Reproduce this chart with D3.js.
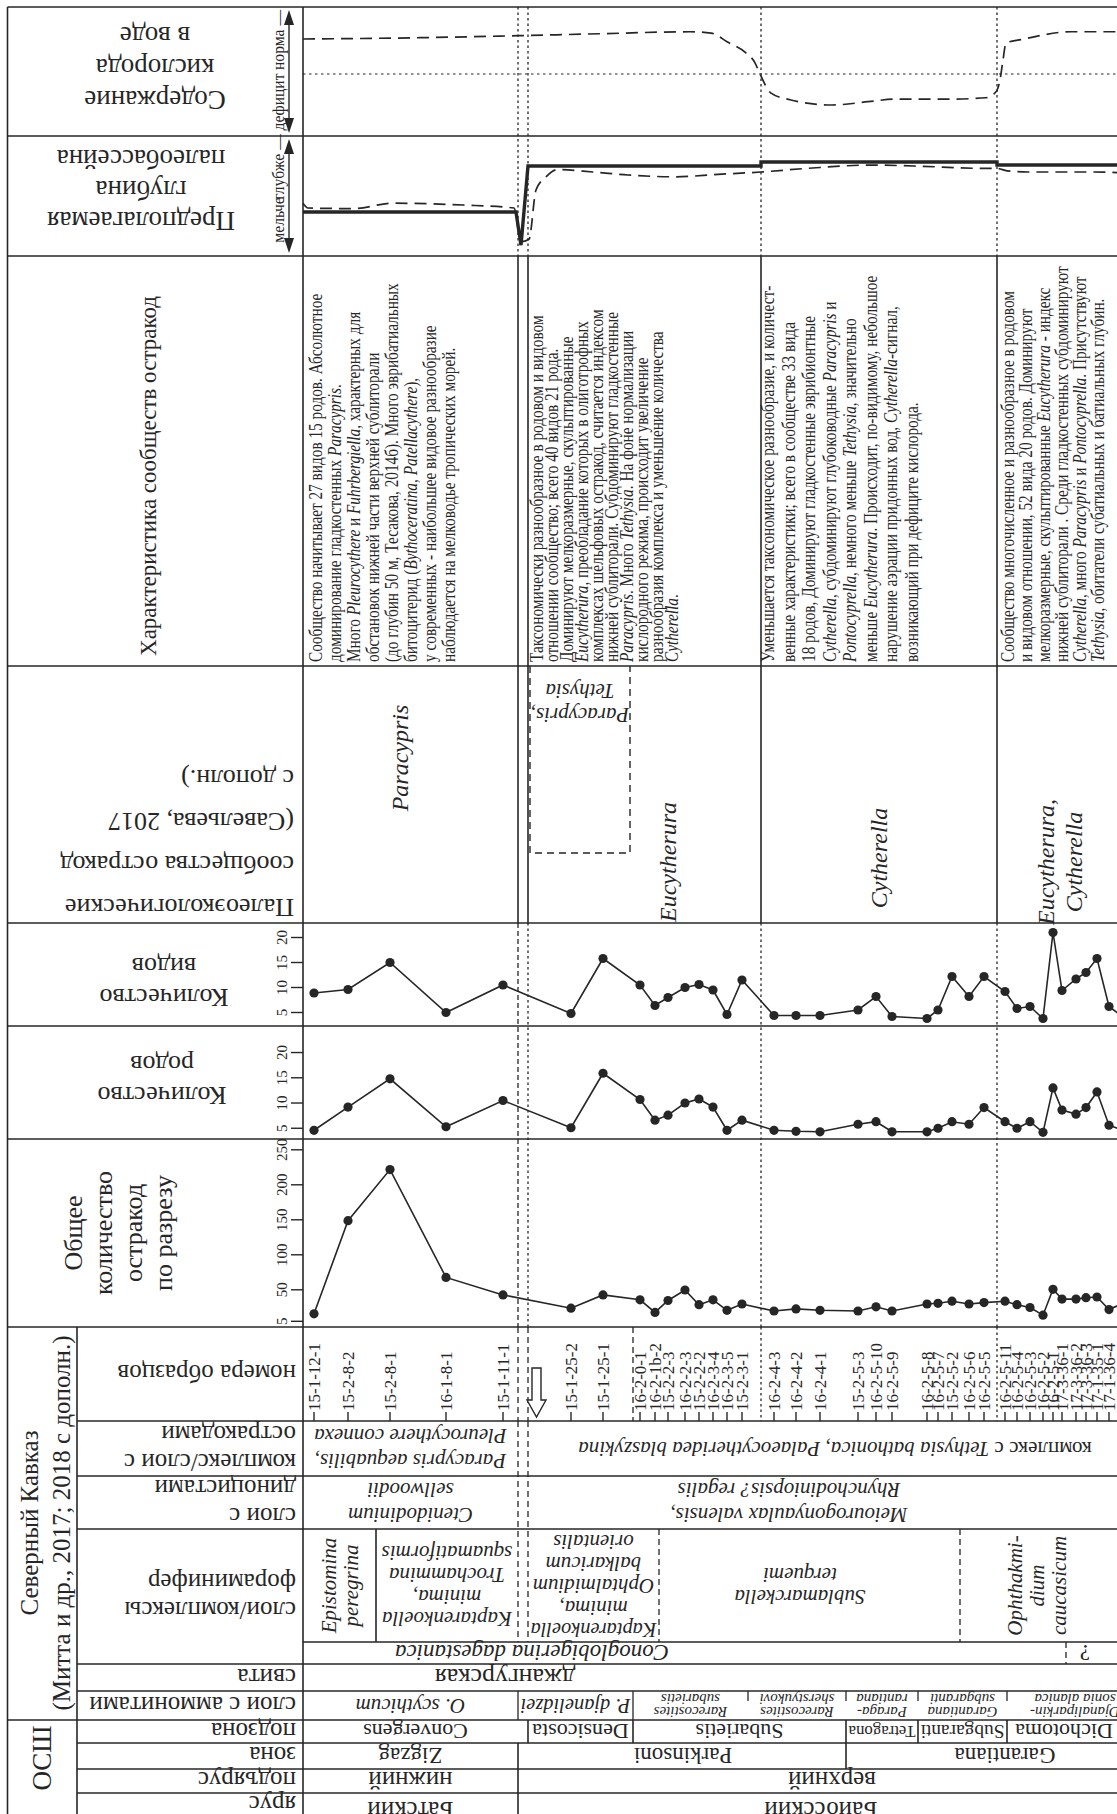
<!DOCTYPE html>
<html>
<head>
<meta charset="utf-8">
<script src="https://cdn.jsdelivr.net/npm/d3@7"></script>
<style>
  body { margin: 0; background: #fff; }
  svg { display: block; }
</style>
</head>
<body>
<svg id="chart"></svg>
<script>
// ---- data (positions along the section, arbitrary units) ----
const sampleLabels = ['15-1-12-1', '15-2-8-2', '15-2-8-1', '16-1-8-1', '15-1-11-1',
  '15-1-25-2', '15-1-25-1', '16-2-0-1', '16-2-1b-2', '15-2-2-3', '16-2-2-3', '15-2-2-2',
  '16-2-3-4', '16-2-3-5', '15-2-3-1', '16-2-4-3', '16-2-4-2', '16-2-4-1', '15-2-5-3',
  '16-2-5-10', '16-2-5-9', '16-2-5-8', '16-2-5-7', '15-2-5-2', '16-2-5-6', '16-2-5-5',
  '16-2-5-11', '16-2-5-4', '16-2-5-3', '16-2-5-2', '16-2-5-1', '17-3-36-1', '17-3-36-2',
  '17-3-36-3', '17-1-35-1', '17-1-36-4', '17-2-36-4'];
const samplePos = [1.1, 4.5, 8.7, 14.3, 20.0, 26.8, 30.0, 33.7, 35.2, 36.5, 38.2, 39.6,
  41.0, 42.4, 43.9, 47.1, 49.3, 51.7, 55.5, 57.3, 58.9, 62.4, 63.5, 64.9, 66.6, 68.1,
  70.2, 71.4, 72.7, 74.0, 75.0, 75.9, 77.3, 78.3, 79.4, 80.6, 82.0];
const speciesCount = [8.8, 9.5, 14.9, 4.9, 10.4, 4.7, 15.7, 10.4, 6.3, 7.9, 9.9, 10.5,
  9.4, 4.5, 11.4, 4.3, 4.3, 4.3, 5.4, 8.1, 4.1, 3.7, 5.4, 12.1, 8.1, 12.1,
  9.1, 5.7, 6.1, 3.7, 20.9, 9.3, 11.6, 12.9, 15.7, 6.1, 4.0];
const generaCount = [4.5, 9.1, 14.7, 5.2, 10.4, 5.0, 15.8, 10.6, 6.5, 7.5, 9.9, 10.7,
  9.1, 4.5, 6.5, 4.5, 4.3, 4.2, 5.7, 6.2, 4.2, 4.2, 4.9, 6.2, 5.7, 9.0,
  6.2, 4.9, 6.2, 4.1, 12.9, 8.5, 7.7, 9.0, 12.1, 5.5, 4.5];
const totalCount = [15, 148, 221, 67, 42, 23, 42, 35, 17, 34, 49, 28,
  35, 20, 29, 19, 22, 20, 19, 25, 19, 29, 30, 33, 29, 31,
  33, 28, 24, 13, 50, 36, 36, 38, 39, 21, 30];
const countTicks = [5, 10, 15, 20];
const totalTicks = [5, 50, 100, 150, 200, 250];

// oxygen (relative: >0 norm, <0 deficit) and depth (0 shallow .. 100 deep), schematic curves
const oxygenCurve = [[0, 0.53], [11.7, 0.55], [21.5, 0.58], [29.7, 0.61], [38.7, 0.64],
  [40.8, 0.62], [42.5, 0.48], [44.2, 0.33], [45.2, 0.17], [45.7, 0], [46.8, -0.29],
  [48.7, -0.39], [52.9, -0.47], [56.5, -0.42], [59.3, -0.38], [64.7, -0.38], [68.3, -0.36],
  [69.3, -0.27], [69.7, -0.09], [70.0, 0.21], [70.3, 0.47], [71.8, 0.52], [76.8, 0.64], [83, 0.64]];
const depthTrend = [[0, 44], [0.5, 40], [5, 39.5], [9, 44], [16, 42.5], [21.1, 40], [21.8, 12],
  [22.6, 14], [23.3, 55], [24.3, 66], [25.4, 72], [29, 70], [32.5, 67.5], [37.2, 66], [41.5, 68],
  [45.8, 70], [50.4, 73], [56.8, 75.8], [61.1, 75], [68.3, 73], [69.4, 73], [70.4, 71],
  [72.5, 70], [79, 70], [83, 69]];
const depthLevel = [[0, 36.7], [21.3, 36.7], [21.8, 9], [22.5, 75], [45.8, 75], [45.8, 78.3],
  [69.4, 78.3], [69.4, 75.8], [83, 75.8]];

// interval boundaries
const mainBounds = [21.5, 22.5, 45.8, 69.4];
const textBlocks = [
  { at: 1.3, lh: 19, lines: [
    'Сообщество начитывает 27 видов 15 родов. Абсолютное',
    'доминирование гладкостенных *Paracypris*.',
    'Много *Pleurocythere* и *Fuhrbergiella*, характерных для',
    'обстановок нижней части верхней сублиторали',
    '(до глубин 50 м, Тесакова, 2014б). Много эврибатиальных',
    'битоцитерид (*Bythoceratina*,  *Patellacythere*),',
    'у современных - наибольшее видовое разнообразие',
    'наблюдается на мелководье тропических морей.'] },
  { at: 23.4, lh: 15, lines: [
    'Таксономически разнообразное в родовом и видовом',
    'отношении сообщество; всего 40 видов 21 рода.',
    'Доминируют мелкоразмерные, скульптированные',
    '*Eucytherura*, преобладание которых в олиготрофных',
    'комплексах шельфовых остракод, считается индексом',
    'нижней сублиторали. Субдоминируют гладкостенные',
    '*Paracypris*. Много *Tethysia*. На фоне нормализации',
    'кислородного режима, происходит увеличение',
    'разнообразия комплекса и уменьшение количества',
    '*Cytherella*.'] },
  { at: 46.5, lh: 20.5, lines: [
    'Уменьшается таксономическое разнообразие, и количест-',
    'венные характеристики; всего в сообществе 33 вида',
    '18 родов, Доминируют гладкостенные эврибионтные',
    '*Cytherella*, субдоминируют глубоководные *Paracypris* и',
    '*Pontocyprella*, немного меньше *Tethysia*, значительно',
    'меньше *Eucytherura*. Происходит, по-видимому, небольшое',
    'нарушение аэрации придонных вод, *Cytherella*-сигнал,',
    'возникающий при дефиците кислорода.'] },
  { at: 70.5, lh: 18, lines: [
    'Сообщество многочисленное и разнообразное в родовом',
    'и видовом отношении, 52 вида 20 родов. Доминируют',
    'мелкоразмерные, скульптированные *Eucytherura* - индекс',
    'нижней сублиторали . Среди гладкостенных субдоминируют',
    '*Cytherella*, много *Paracypris* и *Pontocyprella*. Присутствуют',
    '*Tethysia*, обитатели субатиальных и батиальных глубин.'] }
];
const paleoCommunities = [
  { at: 9.7, lines: ['*Paracypris*'] },
  { at: 36.5, lines: ['*Eucytherura*'] },
  { at: 57.6, lines: ['*Cytherella*'] },
  { at: 75.7, lines: ['*Eucytherura,*', '*Cytherella*'] }
];
const paleoBox = { from: 22.7, to: 32.7, lines: ['*Paracypris,*', '*Tethysia*'] };

const ostracodZones = [
  { from: 0, to: 21.5, lines: ['*Paracypris aequabilis,*', '*Pleurocythere connexa*'] },
  { from: 22.5, to: 84, at: 53.2, lines: ['комплекс с *Tethysia bathonica, Palaeocytheridea blaszykina*'] }
];
const dinoZones = [
  { from: 0, to: 21.5, lines: ['*Ctenidodinium*', '*sellwoodii*'] },
  { from: 22.5, to: 84, at: 48.6, lines: ['*Meiourogonyaulax valensis,*', '*Rhynchodiniopsis? regalis*'] }
];
const foramZones = [
  { from: 0, to: 7.3, upright: true, lines: ['*Epistomina*', '*peregrina*'] },
  { from: 7.3, to: 21.5, lines: ['*Kaptarenkoella*', '*minima,*', '*Trochammina*', '*squamatiformis*'] },
  { from: 22.5, to: 35.6, lines: ['*Kaptarenkoella*', '*minima,*', '*Ophtalmidium*', '*balkaricum*', '*orientalis*'] },
  { from: 35.6, to: 65.7, at: 49.7, lines: ['*Sublamarckella*', '*terquemi*'] },
  { from: 65.7, to: 84, at: 73.4, upright: true, lines: ['*Ophthakmi-*', '*dium*', '*caucasicum*'] }
];
const planktonZones = [
  { from: 0, to: 76.3, at: 22.9, lines: ['*Conoglobigerina dagestanica*'] },
  { from: 76.3, to: 84, at: 78.2, lines: ['?'] }
];
const formations = [{ from: 0, to: 84, at: 20.2, lines: ['джангурская'] }];
const ammoniteBeds = [
  { from: 0, to: 21.5, lines: ['*O. scythicum*'] },
  { from: 21.5, to: 33, lines: ['*P. djanelidzei*'] },
  { from: 33, to: 44.5, lines: ['*Rarecostites*', '*subarietis*'] },
  { from: 44.5, to: 54.3, lines: ['*Rarecostites*', '*sherstyukovi*'] },
  { from: 54.3, to: 61.5, lines: ['*Paraga-*', '*rantiana*'] },
  { from: 61.5, to: 70.4, lines: ['*Garantiana*', '*subgaranti*'] },
  { from: 70.4, to: 84, at: 77.2, lines: ['*Djanaliparkin-*', '*sonia alanica*'] }
];
const subzones = [
  { from: 0, to: 22.5, lines: ['Convergens'] },
  { from: 22.5, to: 33, lines: ['Densicosta'] },
  { from: 33, to: 54.3, lines: ['Subarietis'] },
  { from: 54.3, to: 61.5, lines: ['Tetragona'] },
  { from: 61.5, to: 70.4, lines: ['Subgaranti'] },
  { from: 70.4, to: 84, at: 76.1, lines: ['Dichotoma'] }
];
const zones = [
  { from: 0, to: 21.5, lines: ['Zigzag'] },
  { from: 21.5, to: 54.3, at: 38.0, lines: ['Parkinsoni'] },
  { from: 54.3, to: 84, at: 70.2, lines: ['Garantiana'] }
];
const substages = [
  { from: 0, to: 21.5, lines: ['нижний'] },
  { from: 21.5, to: 84, at: 52.9, lines: ['верхний'] }
];
const stages = [
  { from: 0, to: 21.5, lines: ['Батский'] },
  { from: 21.5, to: 84, at: 51.8, lines: ['Байосский'] }
];

// ---- layout ----
const W = 1117, H = 1814;
const SERIF = "'Liberation Serif','Times New Roman',serif";
const INK = '#262626';
const xL = 7.5, xG = 77, xH = 303;
const Y = { top: 7, oxy: 136, depth: 256, text: 666, paleo: 923, spec: 1026, gen: 1139,
  total: 1327, samples: 1421, ostr: 1476, dino: 1529, foramSub: 1642, foram: 1664,
  svita: 1691, amm: 1720, subzone: 1743, zone: 1769, substage: 1793, bottom: 1840 };
const paleoLabelY = [758, 862, 858, 862];

const svg = d3.select('#chart').attr('width', W).attr('height', H);
svg.append('rect').attr('width', W).attr('height', H).attr('fill', '#fff');

const x = d3.scaleLinear().domain([0, 83]).range([xH, 1133]);
const yOxy = d3.scaleLinear().domain([-1, 1]).range([140, 8]);
const yDepth = d3.scaleLinear().domain([0, 100]).range([Y.depth, Y.oxy]);
const ySpec = d3.scaleLinear().domain([0, 25]).range([1037, 912]);
const yGen = d3.scaleLinear().domain([0, 25]).range([1153, 1026.8]);
const yTot = d3.scaleLinear().domain([0, 250]).range([1324.3, 1149.3]);

const grid = svg.append('g').attr('stroke', INK).attr('fill', 'none');
function hline(y, x1, x2, w, dash) {
  const l = grid.append('line').attr('x1', x1).attr('x2', x2).attr('y1', y).attr('y2', y)
    .attr('stroke-width', w || 1.6);
  if (dash) l.attr('stroke-dasharray', dash);
}
function vline(xp, y1, y2, dash, w) {
  const l = grid.append('line').attr('x1', xp).attr('x2', xp).attr('y1', y1).attr('y2', y2)
    .attr('stroke-width', w || 1.6);
  if (dash) l.attr('stroke-dasharray', dash);
}

// text with *italic* segments
function rich(t, str) {
  str.split('*').forEach((seg, i) => {
    if (!seg) return;
    t.append('tspan').attr('font-style', i % 2 ? 'italic' : null).text(seg);
  });
}
function lines(parent, o) {
  const sx = o.squeeze || 1;
  const g = parent.append('g')
    .attr('transform', `translate(${o.x},${o.y}) rotate(${o.rot || 0}) scale(${sx},1)`);
  const n = o.lines.length;
  o.lines.forEach((ln, i) => {
    const t = g.append('text')
      .attr('x', 0)
      .attr('y', o.flow ? i * o.lh : (i - (n - 1) / 2) * o.lh)
      .attr('text-anchor', o.anchor || 'middle')
      .attr('dominant-baseline', 'central')
      .attr('font-family', SERIF)
      .attr('font-size', o.size)
      .attr('fill', INK);
    rich(t, ln);
    if (o.maxW) {
      const w = t.node().getComputedTextLength();
      if (w > o.maxW) t.attr('font-size', o.size * o.maxW / w);
    }
  });
  return g;
}
const txt = svg.append('g');

// ---- frame and rows ----
[Y.top, Y.oxy, Y.depth, Y.text, Y.paleo, Y.spec, Y.gen, Y.total].forEach(y => hline(y, xL, W + 10));
[Y.samples, Y.ostr, Y.dino, Y.foram, Y.svita].forEach(y => hline(y, xG, W + 10));
[Y.subzone, Y.zone, Y.substage].forEach(y => hline(y, xG, W + 10));
hline(Y.amm, xL, W + 10);
hline(Y.foramSub, xH, W + 10);
vline(xL, Y.top, H + 5);
vline(xG, Y.total, H + 5);
vline(xH, Y.top, H + 5);

// ---- header column ----
lines(txt, { x: 155, y: 68, rot: 180, lh: 32, size: 27, lines: ['Содержание', 'кислорода', 'в воде'] });
lines(txt, { x: 141, y: 190, rot: 180, lh: 31, size: 27, lines: ['Предполагаемая', 'глубина', 'палеобассейна'] });
lines(txt, { x: 148, y: 476, rot: -90, lh: 30, size: 23, lines: ['Характеристика сообществ остракод'] });
lines(txt, { x: 294, y: 843, rot: 180, lh: 43, size: 26, anchor: 'start',
  lines: ['Палеоэкологические', 'сообщества остракод', '(Савельева, 2017', 'с дополн.)'] });
lines(txt, { x: 164, y: 982, rot: 180, lh: 31, size: 26, lines: ['Количество', 'видов'] });
lines(txt, { x: 162, y: 1080, rot: 180, lh: 31, size: 26, lines: ['Количество', 'родов'] });
lines(txt, { x: 118, y: 1233, rot: -90, lh: 30, size: 26, lines: ['Общее', 'количество', 'остракод', 'по разрезу'] });
lines(txt, { x: 45, y: 1523, rot: -90, lh: 32, size: 25, lines: ['Северный Кавказ', '(Митта и др., 2017; 2018 с дополн.)'] });
lines(txt, { x: 42, y: 1758, rot: -90, lh: 26, size: 27, lines: ['ОСШ'] });

const rowLabels = [
  { y: (Y.total + Y.samples) / 2, lines: ['номера образцов'] },
  { y: (Y.samples + Y.ostr) / 2, lines: ['комплекс/слои с', 'остракодами'] },
  { y: (Y.ostr + Y.dino) / 2, lines: ['слои с', 'диноцистами'] },
  { y: (Y.dino + Y.foram) / 2, lines: ['слои/комплексы', 'фораминифер'] },
  { y: (Y.foram + Y.svita) / 2, lines: ['свита'] },
  { y: (Y.svita + Y.amm) / 2, lines: ['слои с аммонитами'] },
  { y: (Y.amm + Y.subzone) / 2, lines: ['подзона'] },
  { y: (Y.subzone + Y.zone) / 2, lines: ['зона'] },
  { y: (Y.zone + Y.substage) / 2, lines: ['подъярус'] },
  { y: Y.substage + 12, lines: ['ярус'] }
];
rowLabels.forEach(r => lines(txt, { x: 296, y: r.y, rot: 180, lh: 28, size: 25, anchor: 'start', lines: r.lines }));

// header arrows
function arrow(y1, y2) {
  const g = svg.append('g').attr('fill', INK).attr('stroke', INK);
  g.append('line').attr('x1', 289).attr('x2', 289).attr('y1', y1 + 8).attr('y2', y2 - 8).attr('stroke-width', 1.4);
  g.append('path').attr('d', `M289,${y1} L284,${y1 + 15} L294,${y1 + 15} Z`).attr('stroke', 'none');
  g.append('path').attr('d', `M289,${y2} L284,${y2 - 15} L294,${y2 - 15} Z`).attr('stroke', 'none');
}
arrow(10, 133);
arrow(139, 253);
const small = (xp, yp, s) => lines(txt, { x: xp, y: yp, rot: -90, lh: 14, size: 17, squeeze: 0.92, lines: [s] });
small(278, 40, 'норма —');
small(278, 102, 'дефицит');
small(278, 167, 'глубже —');
small(278, 220, 'мельче');

// ---- vertical boundaries in data area ----
mainBounds.forEach((b, i) => {
  const dotted = '2.5,3';
  vline(x(b), Y.top, Y.depth, dotted, 1.3);
  vline(x(b), Y.depth, Y.paleo);
  vline(x(b), Y.paleo, Y.total, i === 0 ? '5,3' : dotted, 1.3);
  vline(x(b), Y.total, Y.samples, i < 2 ? '6,4' : dotted, 1.3);
});
vline(x(33.0), Y.total, Y.samples, '6,4', 1.3);

// ---- oxygen panel ----
hline(yOxy(0), xH, W + 10, 1.2, '2.5,3.5');
svg.append('path').datum(oxygenCurve)
  .attr('d', d3.line().x(d => x(d[0])).y(d => yOxy(d[1])).curve(d3.curveMonotoneX))
  .attr('fill', 'none').attr('stroke', INK).attr('stroke-width', 1.7).attr('stroke-dasharray', '12,7');

// ---- depth panel ----
svg.append('path').datum(depthTrend)
  .attr('d', d3.line().x(d => x(d[0])).y(d => yDepth(d[1])).curve(d3.curveMonotoneX))
  .attr('fill', 'none').attr('stroke', INK).attr('stroke-width', 1.7).attr('stroke-dasharray', '12,7');
svg.append('path').datum(depthLevel)
  .attr('d', d3.line().x(d => x(d[0])).y(d => yDepth(d[1])))
  .attr('fill', 'none').attr('stroke', INK).attr('stroke-width', 3.4);

// ---- community descriptions ----
textBlocks.forEach(b => {
  lines(txt, { x: x(b.at), y: Y.text - 4, rot: -90, lh: b.lh, size: 18, squeeze: 0.85,
    anchor: 'start', flow: true, lines: b.lines });
});

// ---- palaeoecological communities ----
paleoCommunities.forEach((p, i) => lines(txt, { x: x(p.at), y: paleoLabelY[i], rot: -90, lh: 28, size: 24, lines: p.lines }));
svg.append('path')
  .attr('d', `M${x(paleoBox.from)},${Y.text} V853 H${x(paleoBox.to)} V${Y.text}`)
  .attr('fill', 'none').attr('stroke', INK).attr('stroke-width', 1.4).attr('stroke-dasharray', '7,5');
lines(txt, { x: (x(paleoBox.from) + x(paleoBox.to)) / 2, y: 703, rot: 180, lh: 24, size: 21, lines: paleoBox.lines });

// ---- count panels ----
function countPanel(values, y, ticks) {
  const g = svg.append('g');
  const axis = g.append('g').attr('transform', `translate(${xH},0)`)
    .call(d3.axisLeft(y).tickValues(ticks).tickSize(12).tickFormat(d3.format('d')));
  axis.select('.domain').remove();
  axis.selectAll('line').attr('stroke', INK).attr('stroke-width', 1.4);
  axis.selectAll('text')
    .attr('x', null).attr('dy', null)
    .attr('transform', 'translate(-21,0) rotate(-90)')
    .attr('text-anchor', 'middle').attr('dominant-baseline', 'central')
    .attr('font-family', SERIF).attr('font-size', 15).attr('fill', INK);
  const pts = values.map((v, i) => [samplePos[i], v]);
  g.append('path').datum(pts)
    .attr('d', d3.line().x(d => x(d[0])).y(d => y(d[1])))
    .attr('fill', 'none').attr('stroke', INK).attr('stroke-width', 1.6);
  g.selectAll('circle').data(pts).join('circle')
    .attr('cx', d => x(d[0])).attr('cy', d => y(d[1])).attr('r', 4.6).attr('fill', INK);
}
countPanel(speciesCount, ySpec, countTicks);
countPanel(generaCount, yGen, countTicks);
countPanel(totalCount, yTot, totalTicks);

// ---- sample numbers ----
const sg = svg.append('g');
sg.selectAll('line').data(samplePos).join('line')
  .attr('x1', d => x(d)).attr('x2', d => x(d)).attr('y1', Y.samples).attr('y2', Y.samples - 9)
  .attr('stroke', INK).attr('stroke-width', 1.4);
sg.selectAll('text').data(sampleLabels).join('text')
  .attr('transform', (d, i) => `translate(${x(samplePos[i])},${Y.samples - 10}) rotate(-90)`)
  .attr('dominant-baseline', 'central').attr('font-family', SERIF).attr('font-size', 17)
  .attr('fill', INK).text(d => d);
svg.append('path')
  .attr('d', 'M532,1368 H541 V1400 H546 L536.5,1417 L527,1400 H532 Z')
  .attr('fill', '#fff').attr('stroke', INK).attr('stroke-width', 1.4);

// ---- stratigraphic rows ----
function cellRow(cells, y1, y2, o) {
  cells.forEach((c, i) => {
    const cx = x(c.at !== undefined ? c.at : (c.from + c.to) / 2);
    const cy = (y1 + y2) / 2;
    const size = typeof o.size === 'function' ? o.size(c) : o.size;
    const maxW = c.upright ? (y2 - y1) - 6 : x(c.to) - x(c.from) - 5;
    lines(txt, { x: cx, y: cy, rot: c.upright ? -90 : 180, lh: o.lh, size, maxW, lines: c.lines });
    if (i > 0 && o.sep) o.sep(x(c.from), i);
  });
}
cellRow(ostracodZones, Y.samples, Y.ostr, { lh: 25, size: 21 });
cellRow(dinoZones, Y.ostr, Y.dino, { lh: 25, size: 21 });
[21.5, 22.5].forEach(b => vline(x(b), Y.samples, Y.foramSub, '6,4', 1.3));
cellRow(foramZones, Y.dino, Y.foramSub, { lh: 22, size: 21,
  sep: (xp, i) => { if (i === 1) vline(xp, Y.dino, Y.foramSub); else if (i > 2) vline(xp, Y.dino, Y.foramSub, '6,4', 1.3); } });
cellRow(planktonZones, Y.foramSub, Y.foram, { lh: 20, size: 23,
  sep: xp => vline(xp, Y.foramSub, Y.foram, '6,4', 1.3) });
cellRow(formations, Y.foram, Y.svita, { lh: 20, size: 26 });
cellRow(ammoniteBeds, Y.svita, Y.amm, { lh: 13, size: c => c.lines.length > 1 ? 15 : 21,
  sep: (xp, i) => vline(xp, Y.svita, i <= 2 ? Y.amm : Y.svita + 10, null, 1.3) });
cellRow(subzones, Y.amm, Y.subzone, { lh: 20, size: 22, sep: xp => vline(xp, Y.amm, Y.subzone) });
cellRow(zones, Y.subzone, Y.zone, { lh: 20, size: 23, sep: xp => vline(xp, Y.subzone, Y.zone) });
cellRow(substages, Y.zone, Y.substage, { lh: 20, size: 25, sep: xp => vline(xp, Y.zone, Y.substage) });
cellRow(stages, Y.substage, Y.bottom - 12, { lh: 20, size: 25, sep: xp => vline(xp, Y.substage, H + 5) });
</script>
</body>
</html>
